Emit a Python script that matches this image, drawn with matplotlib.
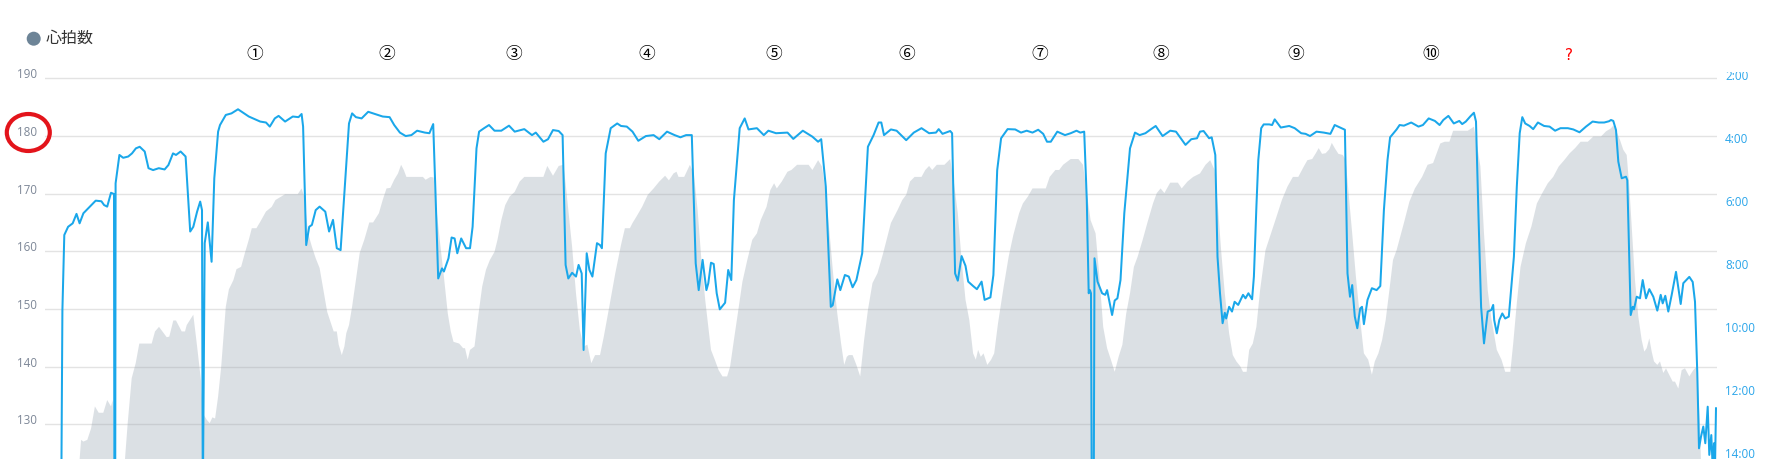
import numpy as np
import matplotlib
matplotlib.use('Agg')
import matplotlib.pyplot as plt
import matplotlib.transforms as mtrans
from matplotlib.patches import Ellipse, Rectangle

# tempo trascorso (s) e passo (min/km) - linea blu, asse destro invertito
pace_t = [16.2, 17.4, 19.3, 23.1, 27.7, 31.5, 34.6, 38.4, 44.9, 50.7, 56.4, 59.1, 62.2, 66, 69, 69.4, 70.2, 70.6,
          74.4, 78.2, 83.2, 87, 90.9, 94.7, 99.7, 103.5, 108.1, 113.8, 119.6, 123.4, 128, 131, 135.6, 140.6,
          145.2, 148.3, 152.1, 155.2, 157, 157.8, 159.7, 162.8, 166.6, 169.3, 173.1, 175, 180.8, 186.5, 193,
          203.8, 215.2, 221, 224.8, 229.8, 233.6, 240.1, 247.8, 253.5, 256.6, 258.1, 261.2, 264.2, 266.9, 270.7,
          274.6, 280.3, 284.1, 288, 291.8, 295.6, 299.4, 304, 307.1, 310.9, 316.6, 323.2, 330, 337.7, 344.6,
          349.2, 354.9, 360.7, 366.4, 372.1, 379.8, 384.4, 388.2, 390.5, 393.2, 397, 398.9, 403.5, 406.6, 409.6,
          412.3, 416.2, 421.1, 425, 427.6, 431.5, 434.1, 439.1, 444, 449.5, 456.3, 464, 469.7, 479.3, 487, 490.8,
          498.4, 503, 508, 513.7, 517.6, 520.6, 523.3, 527.1, 531, 533.6, 536.7, 538.6, 541.7, 544.4, 547.4, 552,
          555, 556.9, 560.7, 565.7, 572.2, 576, 581.8, 587.5, 593.3, 600.9, 608.6, 614.3, 622, 629.6, 635.4,
          641.1, 646.8, 650.7, 653.7, 657.6, 661.4, 663.3, 666, 668.7, 671.7, 674.8, 680.1, 683.2, 686.3, 688.9,
          694.7, 699.7, 703.5, 711.9, 718.8, 723.4, 731, 742.5, 748.3, 757.8, 767.4, 773.1, 776.2, 780.8, 785.8,
          787.7, 792.3, 795.3, 799.9, 803.8, 807.6, 811.4, 817.2, 822.9, 828.6, 833.6, 836.3, 839, 845.9, 851.6,
          861.2, 868.8, 876.5, 884.1, 891, 893.7, 897.5, 905.2, 907.1, 910.1, 912.8, 916.6, 920.5, 923.2, 928.1,
          931.9, 936.6, 939.6, 945.4, 948.4, 952.2, 956.1, 962.6, 970.2, 976, 981.7, 987.5, 993.2, 998.2, 1002,
          1005.8, 1012.3, 1020, 1025.7, 1031.5, 1035.3, 1039.2, 1041.8, 1043.7, 1044.9, 1046, 1046.8, 1048.7,
          1049.5, 1052.5, 1057.1, 1060.2, 1062.1, 1067.1, 1069.7, 1072.4, 1075.5, 1079.3, 1085, 1090, 1094.6,
          1100.4, 1106.1, 1110.7, 1117.6, 1125.2, 1131, 1140.5, 1146.3, 1152, 1155, 1158.6, 1164.1, 1166.7,
          1170.3, 1172.5, 1175, 1177.6, 1179.8, 1181.2, 1184.1, 1187, 1189.6, 1193.2, 1198, 1200.5, 1203.4,
          1207.1, 1208.9, 1211.4, 1213.3, 1216.2, 1218.7, 1224.2, 1227.1, 1229.7, 1235.8, 1244.2, 1249.7,
          1256.2, 1260.6, 1265, 1271.5, 1278.8, 1285.4, 1289.7, 1295.2, 1299.9, 1302.5, 1305, 1307.2, 1309.8,
          1312.3, 1315.2, 1317, 1318.9, 1322.5, 1326.9, 1331.6, 1335.3, 1338.9, 1342.5, 1345.1, 1351.6, 1354.6,
          1358.9, 1366.2, 1373.5, 1377.9, 1383.7, 1389.9, 1394.6, 1398.3, 1403.4, 1408.8, 1414.3, 1417.2,
          1420.8, 1425.2, 1428.9, 1431, 1433.6, 1436.1, 1439, 1442.7, 1446.3, 1448.2, 1449.2, 1451.8, 1454.3,
          1457.3, 1460.2, 1463.8, 1466.4, 1468.9, 1471.8, 1474.7, 1477.3, 1480.2, 1484.6, 1488.2, 1492.9,
          1499.1, 1504.6, 1510.1, 1515.5, 1522.8, 1528.3, 1534.5, 1541, 1547.6, 1553.8, 1559.2, 1564, 1566,
          1568.3, 1571, 1573.3, 1576.7, 1581, 1582.3, 1585.7, 1587.7, 1589, 1591.7, 1595, 1597.7, 1601, 1604.3,
          1608.3, 1612.3, 1615.7, 1617.7, 1620.3, 1623.3, 1626.7, 1631, 1635.7, 1638.3, 1644.3, 1647.7, 1650,
          1652.3, 1654, 1656, 1658.3, 1660.3, 1662.7, 1664.3, 1666.3, 1667.7, 1669, 1670, 1671]
pace_min = [15.5, 9.3, 6.91, 6.65, 6.54, 6.24, 6.54, 6.22, 6.01, 5.82, 5.84, 5.96, 6.01, 5.57, 5.61, 15.5, 15.5, 5.27,
            4.37, 4.46, 4.42, 4.32, 4.16, 4.11, 4.26, 4.79, 4.85, 4.79, 4.83, 4.69, 4.32, 4.37, 4.26, 4.42,
            6.80, 6.65, 6.17, 5.85, 6.12, 15.5, 7.17, 6.51, 7.76, 5.11, 3.63, 3.42, 3.10, 3.05, 2.92,
            3.15, 3.31, 3.34, 3.47, 3.21, 3.13, 3.31, 3.15, 3.17, 3.07, 3.47, 7.23, 6.65, 6.59, 6.12,
            6.01, 6.17, 6.80, 6.43, 7.33, 7.39, 5.59, 3.37, 3.05, 3.17, 3.21, 3.00, 3.07, 3.15, 3.17,
            3.42, 3.66, 3.77, 3.74, 3.60, 3.66, 3.68, 3.39, 5.59, 8.29, 7.97, 8.07, 7.65, 6.99, 7.02,
            7.49, 7.02, 7.33, 7.33, 6.65, 4.16, 3.63, 3.52, 3.42, 3.60, 3.60, 3.44, 3.63, 3.55, 3.74, 3.66,
            3.95, 3.87, 3.58, 3.61, 3.74, 7.86, 8.29, 8.11, 8.23, 7.86, 8.13, 10.56, 7.49, 8.02, 8.23, 7.17,
            7.23, 7.33, 4.32, 3.52, 3.37, 3.45, 3.47, 3.63, 3.92, 3.77, 3.74, 3.87, 3.63, 3.74, 3.81,
            3.74, 3.74, 7.81, 8.66, 7.70, 8.66, 8.44, 7.79, 7.83, 8.76, 9.27, 9.06, 8.02, 8.34, 5.80,
            3.52, 3.21, 3.56, 3.52, 3.74, 3.60, 3.68, 3.66, 3.86, 3.60, 3.79, 3.95, 3.87, 5.38, 9.19,
            9.14, 8.32, 8.66, 8.18, 8.23, 8.57, 8.34, 7.49, 4.11, 3.74, 3.34, 3.34, 3.74, 3.56, 3.60,
            3.90, 3.66, 3.52, 3.68, 3.66, 3.55, 3.70, 3.61, 3.68, 8.13, 8.36, 7.58, 7.89, 8.39, 8.53,
            8.63, 8.39, 8.97, 8.89, 8.18, 4.85, 3.84, 3.55, 3.56, 3.66, 3.60, 3.66, 3.57, 3.70, 3.95,
            3.95, 3.63, 3.74, 3.68, 3.60, 3.66, 3.63, 5.80, 8.76, 8.66, 8.76, 15.5, 15.5,
            7.65, 8.39, 8.76, 8.81, 8.66, 9.45, 8.99, 8.92, 8.34, 6.22, 4.16, 3.66, 3.74,
            3.68, 3.55, 3.45, 3.77, 3.60, 3.63, 4.05, 3.87, 3.84, 3.63, 3.61, 3.84, 3.81,
            4.37, 7.60, 8.76, 9.71, 9.38, 9.56, 9.19, 9.34, 9.03, 9.13, 8.81, 8.92, 8.76,
            8.95, 8.23, 6.01, 4.53, 3.52, 3.40, 3.40, 3.42, 3.24, 3.50, 3.45, 3.52,
            3.68, 3.70, 3.77, 3.63, 3.66, 3.70, 3.42, 3.50, 3.57, 8.13, 8.87, 8.50, 9.50,
            9.87, 9.24, 9.19, 9.74, 8.97, 8.60, 8.66, 8.53, 6.12, 4.53, 3.81, 3.56, 3.42,
            3.44, 3.34, 3.47, 3.42, 3.21, 3.29, 3.42, 3.26, 3.13, 3.37, 3.29, 3.39,
            3.31, 3.15, 3.03, 3.31, 6.43, 9.19, 10.35, 9.34, 9.29, 9.13, 9.61, 10.03, 9.61,
            9.40, 9.56, 9.50, 8.55, 7.60, 5.38, 3.68, 3.17, 3.37, 3.45, 3.55, 3.34,
            3.45, 3.47, 3.60, 3.52, 3.52, 3.56, 3.65, 3.47, 3.31, 3.34, 3.34, 3.30, 3.26,
            3.29, 3.58, 4.58, 5.11, 5.06, 5.17, 9.45, 9.19, 9.27, 8.87, 8.92, 8.34, 8.92, 8.63,
            8.87, 9.31, 8.81, 9.08, 8.84, 9.34, 8.81, 8.08, 9.10, 8.44, 8.24, 8.40, 9.03,
            11.30, 13.68, 13.31, 12.99, 13.52, 12.36, 13.89, 13.26, 14.3, 13.52, 14.3, 12.41]

# tempo trascorso (s) e frequenza cardiaca (bpm) - area grigia, asse sinistro
hr_t = [32, 36.1, 38.4, 42.3, 46.1, 49.9, 53.7, 58.3, 62.2, 66, 67.7, 69.5, 79.5, 80, 82.7, 86.7, 90.7, 94.3,
        106.7, 110, 114, 118.3, 121.7, 124.3, 128.3, 131, 136.7, 140, 141.7, 148.3, 152.1, 155.9, 157.8, 161.7,
        164.7, 167.4, 170.1, 173.1, 176.2, 180.8, 183.9, 188.4, 191.5, 196.1, 199.9, 203.8, 206.8, 211.4, 215.2,
        221, 226.7, 230.5, 236.3, 240.1, 252.7, 256.6, 259.2, 263.1, 266.9, 270.7, 274.6, 278.4, 282.2, 286,
        288.7, 291.8, 293.7, 296.8, 299.4, 301.3, 304, 307.1, 310.9, 314.7, 319.3, 324.3, 328.1, 333.9, 337.7,
        341.5, 345.4, 349.2, 353, 356.1, 358.8, 361.4, 377.9, 380.6, 385.5, 388.6, 391.3, 395.1, 398.9, 402.8,
        405.8, 408.5, 414.2, 418.1, 420, 422.7, 425, 429.5, 433.4, 437.2, 441, 444.9, 449.5, 452.5, 456.3,
        460.2, 464.7, 469.7, 474.7, 479.3, 498.4, 502.3, 508, 513.7, 518.3, 520.6, 523.3, 527.1, 531, 534.8,
        538.6, 542.4, 546.3, 550.1, 555, 558.8, 564.6, 570.3, 576, 579.9, 584.9, 587.5, 591.4, 597.1, 602.8,
        608.6, 614.3, 620.1, 623.9, 628.5, 631.5, 633.5, 639.2, 644.9, 648.8, 652.6, 656.4, 660.2, 663.3, 666,
        669.8, 673.6, 677.5, 682.1, 685.1, 688.9, 692.8, 697.4, 702.3, 707.3, 711.9, 715.7, 721.5, 725.3,
        729.1, 731.8, 736.8, 742.5, 746.4, 752.1, 763.6, 767.4, 773.1, 777, 780.8, 784.6, 788.4, 792.3,
        796.1, 799.2, 801.8, 803.8, 807.6, 811.4, 815.2, 819.1, 822.9, 827.5, 832.5, 838.2, 845.9, 852.7,
        857.3, 861.2, 865, 869.6, 876.5, 880.3, 884.1, 887.2, 891.8, 899.4, 905.2, 909, 912.8, 916.6, 920.5,
        924.3, 928.1, 930.8, 933.1, 935.8, 938.5, 942.3, 946.1, 949.2, 953, 958.7, 963.7, 968.3, 974.1, 977.9,
        982.9, 987.5, 1000.8, 1004.7, 1010.4, 1014.2, 1018.1, 1025.7, 1033.4, 1038, 1041.8, 1045.6, 1050.6,
        1054.4, 1058.2, 1062.1, 1065.9, 1069.7, 1073.6, 1077.4, 1081.2, 1085, 1088.9, 1092.7, 1097.7, 1102.3,
        1108, 1111.8, 1115.6, 1119.4, 1125.2, 1132.9, 1136.7, 1142.5, 1148.2, 1155, 1160.5, 1165.2, 1169.6,
        1173.2, 1176.1, 1179.8, 1184.1, 1187.8, 1191.4, 1195.1, 1198, 1201.6, 1204.2, 1207.8, 1211.4, 1215.1,
        1220.5, 1226, 1231.5, 1236.9, 1242.4, 1247.9, 1253.3, 1258.8, 1262.4, 1267.2, 1270.8, 1273.7, 1277,
        1280.6, 1284.3, 1286.8, 1289.7, 1293.4, 1297.8, 1300.7, 1303.6, 1307.2, 1310.9, 1315.2, 1318.9, 1323.2,
        1326.9, 1329.8, 1333.4, 1337.1, 1340.7, 1344.4, 1348, 1351.6, 1358.9, 1364.4, 1369.9, 1377.1, 1382.6,
        1388.1, 1395.3, 1399.7, 1404.4, 1408.1, 1422.7, 1428.9, 1431.8, 1435.4, 1439, 1442.7, 1446.3, 1451.8,
        1456.5, 1460.2, 1465.3, 1468.2, 1471.8, 1475.5, 1480.9, 1486.4, 1491.9, 1497.3, 1502.8, 1508.2,
        1513.7, 1519.2, 1524.7, 1530.1, 1535.6, 1542.8, 1548.3, 1556, 1561, 1565.8, 1568.3, 1571.7, 1575,
        1578.3, 1581.7, 1584.3, 1586.7, 1590, 1593.3, 1596.7, 1599.3, 1601.7, 1604.3, 1606.7, 1609, 1612.3,
        1615, 1618.3, 1621, 1623.3, 1627.7, 1630, 1633.3, 1636.7, 1640, 1644.3, 1648.3, 1651.7, 1655, 1656.7]
hr_bpm = [118, 127.3, 127, 127.3, 129.3, 133.1, 132, 132, 134.2, 133.1, 134.2, 118, 118, 124, 130.2, 138, 140.6, 144.0,
          144.0, 146.1, 146.9, 145.9, 145.1, 145.2, 148, 148, 146.1, 146.1, 147.2, 149.0, 143.5, 137.7, 131.9, 130.8,
          130.2, 131.2, 131.0, 134.8, 140.0, 150.4, 153.4, 155.0, 156.9, 157.3, 159.7, 162.0, 164.0, 164.0, 165.1,
          166.9, 167.7, 168.9, 169.5, 169.9, 169.9, 170.9, 169.5, 163.1, 160.8, 158.8, 157.1, 153.3, 149.5, 147.5,
          146.1, 146.1, 143.8, 142.0, 143.5, 145.8, 147.2, 150.4, 155.0, 159.7, 162.0, 165.0, 165.0, 166.6, 168.9,
          170.9, 171.0, 172.4, 173.5, 175.0, 174.1, 172.9, 172.9, 172.4, 172.9, 172.8, 167.7, 161.4, 155.6, 149.2,
          146.1, 144.3, 144.0, 143.2, 143.2, 141.2, 142.9, 143.5, 149.0, 153.9, 156.8, 158.5, 159.9, 162.0, 165.4,
          168.0, 169.5, 170.3, 172.1, 172.9, 172.9, 174.8, 173.1, 174.8, 175.0, 171.8, 167.2, 160.8, 152.7, 146.4,
          143.5, 143.8, 140.6, 142.0, 142.0, 145.2, 150.7, 156.2, 161.1, 164.0, 164.0, 164.9, 166.0, 167.7, 169.8,
          170.9, 172.1, 173.1, 172.3, 173.5, 173.8, 172.9, 172.9, 175.0, 173.5, 167.2, 158.5, 151.6, 146.9, 142.9,
          141.2, 139.4, 138.3, 138.3, 140.0, 144.6, 149.2, 154.7, 158.5, 162.0, 163.1, 165.4, 167.7, 170.6,
          171.8, 170.9, 172.1, 173.8, 174.1, 175.0, 175.0, 174.1, 175.8, 174.7, 170.1, 163.1, 155.6, 149.2,
          144.0, 140.3, 141.7, 142.0, 142.0, 140.3, 138.3, 144.6, 149.8, 154.5, 156.2, 159.7, 164.9, 167.2,
          168.9, 169.8, 172.1, 172.9, 172.9, 174.1, 174.8, 174.1, 175.0, 175.0, 176.0, 171.8, 166.6, 158.5, 151.6,
          148.1, 142.3, 141.2, 142.9, 141.7, 142.3, 140.3, 141.2, 142.3, 147.5, 153.9, 159.1, 162.8, 166.6, 168.3,
          169.5, 170.9, 170.9, 172.9, 174.1, 174.1, 175.0, 176.0, 176.0, 175.0, 170.1, 165.4, 163.1,
          155.6, 146.9, 143.2, 141.2, 139.1, 141.7, 143.8, 149.2, 152.7, 157.3, 159.1, 162.0, 164.9,
          168.3, 170.1, 170.9, 170.1, 171.9, 171.9, 170.9, 172.1, 172.9, 173.5, 175.0, 175.8, 174.1,
          167.2, 160.2, 152.7, 145.8, 142.0, 140.9, 140.1, 139.1, 139.1, 142.9, 144.0, 146.9, 153.3,
          160.2, 163.1, 166.0, 168.9, 171.2, 172.9, 172.9, 174.7, 175.8, 176.0, 177.0, 177.9, 176.9,
          177.0, 177.7, 178.8, 177.9, 176.9, 176.7, 175.8, 170.1, 163.1, 155.6, 148.1, 142.3, 141.2,
          138.6, 140.9, 142.3, 144.6, 148.1, 153.3, 158.5, 160.2, 164.9, 168.6, 170.9, 172.9, 175.0,
          175.3, 178.7, 179.0, 179.0, 180.9, 180.9, 181.6, 178.7, 174.7, 163.1, 153.3, 148.4, 142.9,
          141.2, 139.1, 139.1, 144.0, 151.0, 157.3, 161.4, 164.3, 168.3, 170.1, 171.8, 172.9,
          174.7, 175.8, 177.0, 177.9, 179.0, 179.0, 179.9, 179.9, 180.8, 181.3, 181.8, 180.7, 179.3,
          177.6, 176.7, 171.2, 164.3, 155.0, 148.7, 144.6, 142.6, 143.2, 144.9, 142.6, 140.9, 140.3,
          140.9, 138.9, 139.7, 138.9, 137.4, 137.4, 136.2, 139.4, 139.7, 138.3, 139.4, 140.0, 130.2, 118]

hr_ticks = [130, 140, 150, 160, 170, 180, 190]
pace_ticks = [2, 4, 6, 8, 10, 12, 14]
rep_labels = ['①', '②', '③', '④', '⑤', '⑥', '⑦', '⑧', '⑨', '⑩']
rep_pos = [210, 342, 469, 602, 729, 862, 995, 1116, 1251, 1386]   # tempo (s) sopra ogni ripetuta
extra_pos = 1524

W, H = 1771, 459
fig = plt.figure(figsize=(W / 100, H / 100), dpi=100)
fig.patch.set_facecolor('white')

top_px = 72
ax = fig.add_axes([45 / W, 0, (1717 - 45) / W, (H - top_px) / H])
ax.set_xlim(0, 1672)
ax.set_ylim(123.98, 191.09)
ax.set_facecolor('white')
for s in ax.spines.values():
    s.set_visible(False)
ax.set_xticks([])
ax.set_yticks(hr_ticks)
ax.grid(axis='y', color='#e3e3e3', linewidth=1.0, zorder=0)
ax.set_axisbelow(True)
ax.tick_params(axis='y', length=0, pad=5.8, labelsize=8.4, labelcolor='#7d8797')
for lab in ax.get_yticklabels():
    lab.set_fontfamily('Open Sans')

ax.fill_between(hr_t, hr_bpm, 100, facecolor=(148 / 255, 162 / 255, 175 / 255), alpha=0.33,
                linewidth=0, zorder=1)

ax2 = ax.twinx()
ax2.set_ylim(14.02, 1.737)
for s in ax2.spines.values():
    s.set_visible(False)
ax2.set_yticks(pace_ticks)
ax2.set_yticklabels(['%d:00' % p for p in pace_ticks])
ax2.tick_params(axis='y', length=0, pad=5.8, labelsize=8.4, labelcolor='#2aa5ea')
ax2.plot(pace_t, pace_min, color='#1aa7ea', linewidth=1.45, solid_joinstyle='round', zorder=3)

# spostamento delle etichette verso l'alto (stile highcharts)
off = mtrans.ScaledTranslation(0, 5 / 100, fig.dpi_scale_trans)
for lab in ax.get_yticklabels():
    lab.set_transform(lab.get_transform() + off)
for lab in ax2.get_yticklabels():
    lab.set_fontfamily('Open Sans')
    lab.set_transform(lab.get_transform() + off)

# numeri delle ripetute (55 px dal bordo superiore)
y_rep = 1 + (top_px - 55) / (H - top_px)
for lab, p in zip(rep_labels, rep_pos):
    ax.text(p, y_rep, lab, transform=ax.get_xaxis_transform(), ha='center', va='center',
            fontsize=12, family=['Noto Sans CJK JP', 'DejaVu Sans'], color='black', clip_on=False)
ax.text(extra_pos, y_rep, '?', transform=ax.get_xaxis_transform(), ha='center', va='center',
        fontsize=11, color='red', family='DejaVu Sans', clip_on=False)

# l'etichetta 2:00 e' tagliata dal bordo superiore del grafico
fig.patches.append(Rectangle((1718 / W, 1 - top_px / H), 53 / W, top_px / H, transform=fig.transFigure,
                             facecolor='white', edgecolor='none', zorder=5))

# legenda
fig.patches.append(Ellipse((33.7 / W, 1 - 38.7 / H), 14 / W, 14 / H, transform=fig.transFigure,
                           facecolor='#6d8497', edgecolor='none'))
fig.text(46 / W, 1 - 38.5 / H, '心拍数', ha='left', va='center', fontsize=11.5,
         family=['Noto Sans CJK JP', 'DejaVu Sans'], color='#333333')

# cerchio rosso intorno a 180
fig.patches.append(Ellipse((28.3 / W, 1 - 132.5 / H), 43 / W, 37 / H, transform=fig.transFigure,
                           facecolor='none', edgecolor='#e3141b', linewidth=3.0, zorder=6))

fig.savefig('out.png', dpi=100, facecolor='white')
